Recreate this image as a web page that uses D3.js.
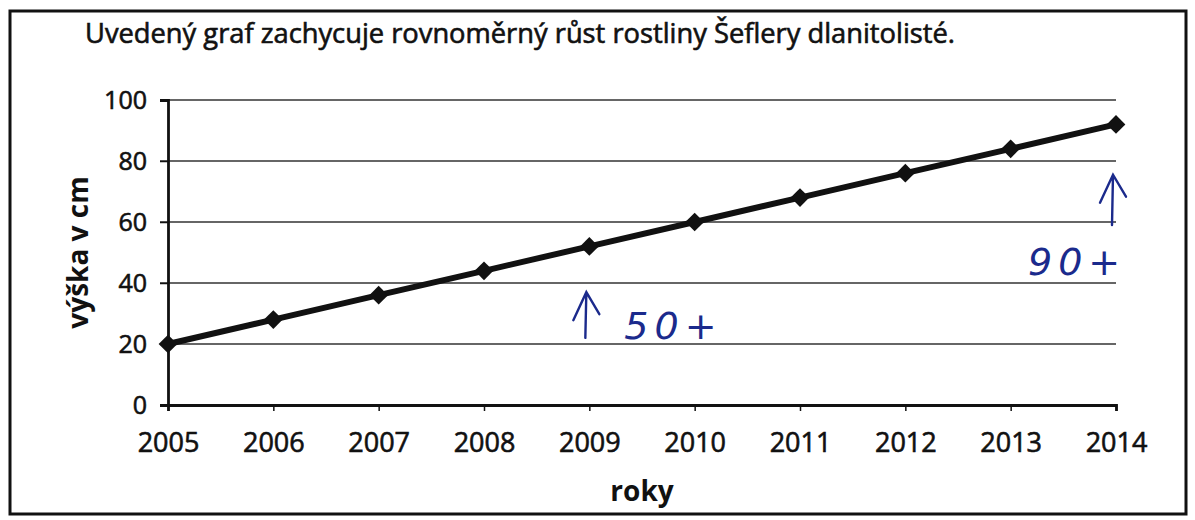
<!DOCTYPE html>
<html>
<head>
<meta charset="utf-8">
<script src="https://cdn.jsdelivr.net/npm/d3@7"></script>
<style>
  body { margin: 0; background: #fff; }
  svg { font-family: "Open Sans", "Noto Sans", sans-serif; }
</style>
</head>
<body>
<svg id="chart" width="1195" height="520"></svg>
<script>
// chart data
let years = [2005, 2006, 2007, 2008, 2009, 2010, 2011, 2012, 2013, 2014];
let heights = [20, 28, 36, 44, 52, 60, 68, 76, 84, 92];
let yTicks = [0, 20, 40, 60, 80, 100];

let titleText = 'Uvedený graf zachycuje rovnoměrný růst rostliny Šeflery dlanitolisté.';
let yLabel = 'výška v cm';
let xLabel = 'roky';

// handwritten notes: [year, arrow from, arrow to, text, text x shift, text value]
let notes = [
  [2009, 22, 37, '50+', 35, 21.5],
  [2014, 59, 75.5, '90+', -88, 42.5]
];

let svg = d3.select('#chart');

// page frame
svg.append('rect')
   .attr('x', 10).attr('y', 11)
   .attr('width', 1176).attr('height', 503)
   .attr('fill', 'none')
   .attr('stroke', '#111')
   .attr('stroke-width', 3);

svg.append('text')
   .attr('x', 85).attr('y', 43)
   .attr('font-size', 26.5)
   .attr('fill', '#111')
   .attr('stroke', '#111')
   .attr('stroke-width', 0.6)
   .attr('textLength', 870)
   .attr('lengthAdjust', 'spacingAndGlyphs')
   .text(titleText);

let x = d3.scaleLinear()
          .domain([2005, 2014])
          .range([168, 1116]);

let y = d3.scaleLinear()
          .domain([0, 100])
          .range([405, 100]);

// grid lines
svg.append('g')
   .selectAll('line')
   .data(yTicks.filter(t => t > 0))
   .enter()
   .append('line')
   .attr('x1', 160).attr('x2', 1116)
   .attr('y1', t => y(t)).attr('y2', t => y(t))
   .attr('stroke', '#333')
   .attr('stroke-width', 1.4);

// y axis
let yAxis = svg.append('g')
   .attr('transform', 'translate(168,0)')
   .call(d3.axisLeft(y).tickValues(yTicks).tickSize(8).tickPadding(13));
yAxis.select('.domain').attr('stroke', '#111').attr('stroke-width', 2.8);
yAxis.selectAll('.tick line').attr('stroke', '#111').attr('stroke-width', 1.5);
yAxis.selectAll('text')
     .attr('font-size', 25)
     .attr('fill', '#111')
     .attr('stroke', '#111')
     .attr('stroke-width', 0.6)
     .attr('font-family', '"Open Sans", sans-serif');

// x axis
let xAxis = svg.append('g')
   .attr('transform', 'translate(0,405)')
   .call(d3.axisBottom(x).tickValues(years).tickFormat(d3.format('d')).tickSizeInner(6).tickSizeOuter(6).tickPadding(22));
xAxis.select('.domain').attr('stroke', '#111').attr('stroke-width', 2.8);
xAxis.selectAll('.tick line').attr('stroke', '#111').attr('stroke-width', 1.5);
xAxis.selectAll('text')
     .attr('font-size', 27)
     .attr('fill', '#111')
     .attr('stroke', '#111')
     .attr('stroke-width', 0.6)
     .attr('font-family', '"Open Sans", sans-serif');

// axis titles
svg.append('text')
   .attr('transform', 'translate(88,' + y(50) + ') rotate(-90)')
   .attr('text-anchor', 'middle')
   .attr('font-size', 28)
   .attr('font-weight', 'bold')
   .attr('fill', '#111')
   .text(yLabel);

svg.append('text')
   .attr('x', 642).attr('y', 501)
   .attr('text-anchor', 'middle')
   .attr('font-size', 28)
   .attr('font-weight', 'bold')
   .attr('fill', '#111')
   .text(xLabel);

// the series
let points = years.map((yr, i) => [yr, heights[i]]);

svg.append('path')
   .datum(points)
   .attr('fill', 'none')
   .attr('stroke', '#111')
   .attr('stroke-width', 6)
   .attr('d', d3.line().x(d => x(d[0])).y(d => y(d[1])));

svg.append('g')
   .selectAll('path')
   .data(points)
   .enter()
   .append('path')
   .attr('transform', d => 'translate(' + x(d[0]) + ',' + y(d[1]) + ') rotate(45)')
   .attr('d', d3.symbol().type(d3.symbolSquare).size(175))
   .attr('fill', '#111');

// blue pen notes
let pen = '#1b2a8c';
let note = svg.append('g').attr('fill', 'none').attr('stroke', pen)
              .attr('stroke-width', 2.4).attr('stroke-linecap', 'round');

notes.forEach(n => {
  let ax = x(n[0]) - 4;
  note.append('path')
      .attr('d', 'M' + ax + ',' + y(n[1]) + ' L' + (ax + 1) + ',' + y(n[2]) +
                 ' M' + (ax - 12) + ',' + (y(n[2]) + 28) + ' L' + (ax + 1) + ',' + y(n[2]) +
                 ' L' + (ax + 14) + ',' + (y(n[2]) + 22));
  svg.append('text')
     .attr('x', x(n[0]) + n[4])
     .attr('y', y(n[5]))
     .attr('font-size', 38)
     .attr('font-style', 'italic')
     .attr('letter-spacing', 6)
     .attr('fill', pen)
     .attr('font-family', '"DejaVu Sans", sans-serif')
     .attr('font-weight', 'lighter')
     .text(n[3]);
});
</script>
</body>
</html>
